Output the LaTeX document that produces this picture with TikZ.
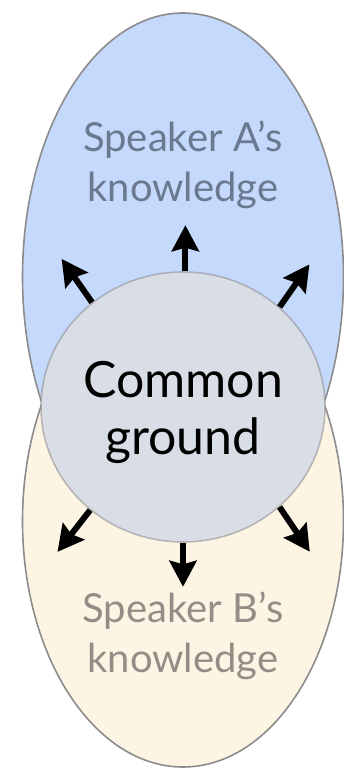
\documentclass[tikz,border=0pt]{standalone}
\usepackage{fontspec}
\setmainfont{Lato}
\usetikzlibrary{shapes.geometric,arrows.meta}
\definecolor{blueA}{HTML}{C5D9FC}
\definecolor{beigeB}{HTML}{FDF4E4}
\definecolor{grayC}{HTML}{D9DDE6}
\definecolor{rim}{HTML}{8C8C8C}
\definecolor{textA}{HTML}{6B7990}
\definecolor{textB}{HTML}{938E85}
\tikzset{
  knowl/.style={ellipse, draw=rim, line width=1.6pt, inner sep=0pt},
  common/.style={ellipse, draw=rim, draw opacity=0.55, fill=grayC, line width=1.6pt, inner sep=0pt},
  push/.style={line width=6pt, -{Stealth[length=26pt,width=27pt,inset=3.5pt]}},
  lbl/.style={align=center, inner sep=0pt, font=\fontsize{40}{50}\selectfont},
}
\begin{document}
\begin{tikzpicture}[x=1pt,y=1pt]
\useasboundingbox (0,0) rectangle (344,769);
\node[knowl, fill=blueA, minimum width=321pt, minimum height=528pt] (A) at (183,492) {};
\node[knowl, fill=beigeB, minimum width=321pt, minimum height=492pt] (B) at (183,248) {};
\node[common, minimum width=284pt, minimum height=270pt] (C) at (183,362) {};
\node[lbl, text=textA, anchor=base] (ta) at (183,567) {Speaker A’s\\knowledge};
\node[lbl, text=textB, anchor=base] (tb) at (183,96) {Speaker B’s\\knowledge};
\node[align=center, inner sep=0pt, font=\fontsize{50}{57}\selectfont, anchor=base] (tc) at (183,314) {Common\\ground};
\draw[push] (C.89) -- ++(90:46);
\draw[push] (C.131) -- ++(125:53);
\draw[push] (C.46) -- ++(55:52);
\draw[push] (C.228) -- ++(232:53);
\draw[push] (C.314) -- ++(304:54);
\draw[push] (C.270) -- ++(270:44);
\end{tikzpicture}
\end{document}
